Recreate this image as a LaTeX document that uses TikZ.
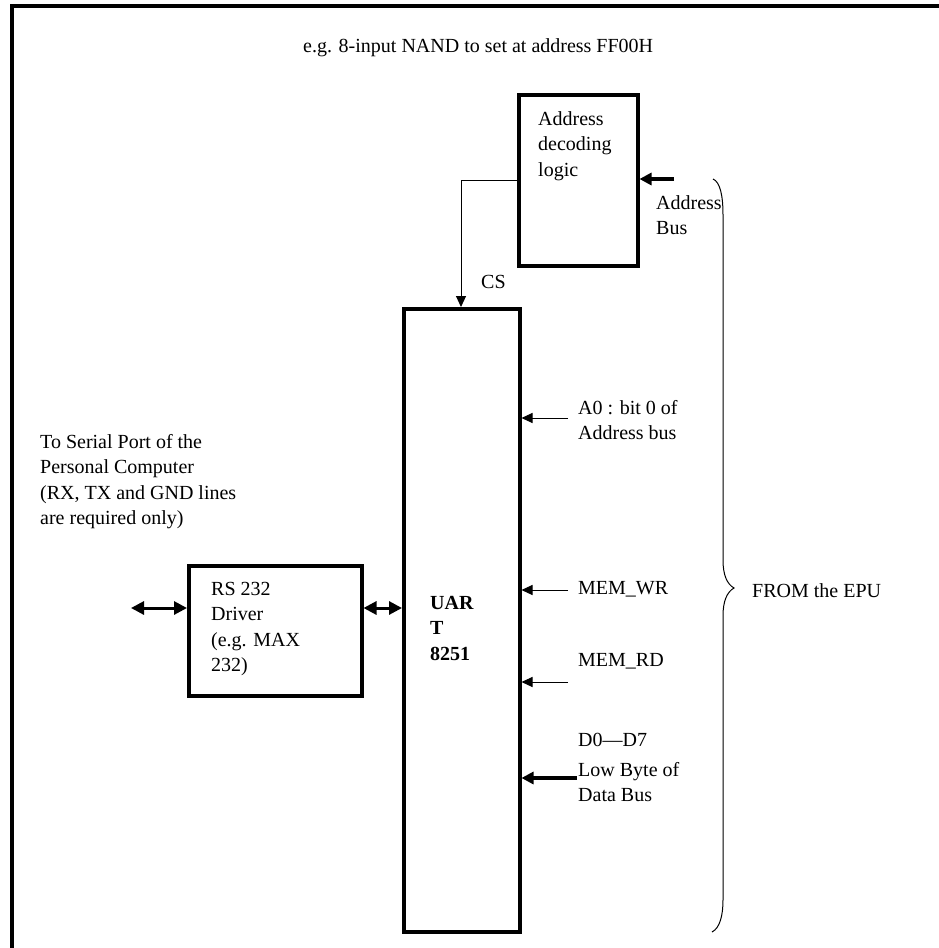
\documentclass[tikz,border=0pt]{standalone}
\usepackage{fontspec}
\setmainfont{Liberation Serif}
\usetikzlibrary{arrows.meta}
\begin{document}
\begin{tikzpicture}[x=1pt,y=-1pt,
  lbl/.style={anchor=north west, inner sep=0pt, font=\fontsize{20}{25.5}\selectfont, align=left},
  blk/.style={draw, line width=3.5pt, minimum width=#1, inner sep=0pt, anchor=north west},
  thinarrow/.style={line width=1pt, -{Triangle[length=11pt,width=10pt]}},
  thickarrow/.style={line width=3.5pt, -{Triangle[length=12pt,width=12pt]}},
  dblarrow/.style={line width=3pt, {Triangle[length=13pt,width=13pt]}-{Triangle[length=13pt,width=13pt]}},
  bracepath/.style={line width=1pt}]
\useasboundingbox (0,0) rectangle (939,948);
% frame
\draw[line width=4pt] (12,950) -- (12,6) -- (941,6);
% title
\node[lbl] (title) at (303,38) {e.g. 8-input NAND to set at address FF00H};
% boxes
\node[blk=119pt, minimum height=171pt] (addr) at (517,93) {};
\node[blk=116pt, minimum height=623pt] (uart) at (402,307) {};
\node[blk=173pt, minimum height=130pt] (rs) at (187,564) {};
% box texts
\node[lbl] (addrtxt) at (538,111) {Address\\decoding\\logic};
\node[lbl] (rstxt) at (211,582) {RS 232\\Driver\\(e.g. MAX\\232)};
\node[lbl, font=\fontsize{20}{25.5}\selectfont\bfseries] (uarttxt) at (430,596) {UAR\\T\\8251};
% labels
\node[lbl] (abus) at (656,195) {Address\\Bus};
\node[lbl] (cs) at (481,275) {CS};
\node[lbl] (serial) at (40,434) {To Serial Port of the\\Personal Computer\\(RX, TX and GND lines\\are required only)};
\node[lbl] (a0) at (578,400) {A0 : bit 0 of\\Address bus};
\node[lbl] (memwr) at (578,581) {MEM\_WR};
\node[lbl] (memrd) at (578,653) {MEM\_RD};
\node[lbl] (dbus) at (578,733) {D0—D7};
\node[lbl] (lowbyte) at (578,762) {Low Byte of\\Data Bus};
\node[lbl] (epu) at (752,583) {FROM the EPU};
% connectors
\coordinate (abin) at (674,179);
\draw[thickarrow] (abin) -- (abin -| addr.east);
\coordinate (cscol) at (461,0);
\draw[thinarrow] (addr.west) -| (cscol |- uart.north);
\coordinate (a0in) at (568,418);
\draw[thinarrow] (a0in) -- (a0in -| uart.east);
\coordinate (wrin) at (568,590);
\draw[thinarrow] (wrin) -- (wrin -| uart.east);
\coordinate (rdin) at (568,682);
\draw[thinarrow] (rdin) -- (rdin -| uart.east);
\coordinate (lbin) at (577,778);
\draw[thickarrow] (lbin) -- (lbin -| uart.east);
\coordinate (pc) at (131,608);
\draw[dblarrow] (pc) -- (pc -| rs.west);
\draw[dblarrow] (pc -| rs.east) -- (pc -| uart.west);
% brace
\draw[bracepath] (713,179) .. controls (720,182) and (723,195) .. (723,215)
  -- (723,560) .. controls (723,575) and (727,584) .. (734,588)
  .. controls (727,592) and (723,601) .. (723,616)
  -- (723,900) .. controls (723,915) and (720,928) .. (712,932);
\end{tikzpicture}
\end{document}
